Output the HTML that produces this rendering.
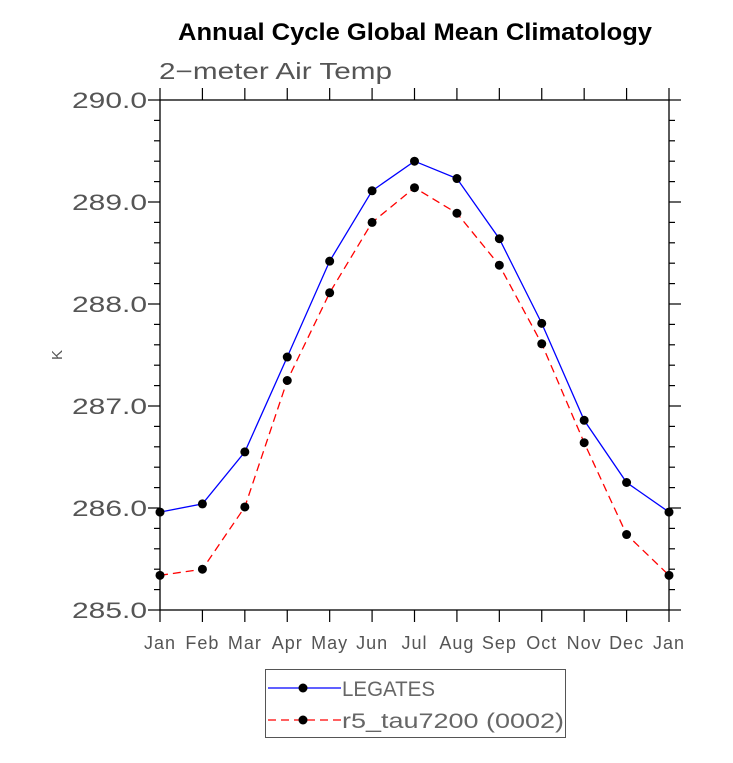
<!DOCTYPE html>
<html><head><meta charset="utf-8"><style>
html,body{margin:0;padding:0;background:#fff;}
svg text{font-family:"Liberation Sans",sans-serif;}
</style></head><body>
<svg id="chart" width="733" height="758" xmlns="http://www.w3.org/2000/svg">
<text x="415" y="40" text-anchor="middle" font-size="24" font-weight="bold" fill="#000" textLength="474" lengthAdjust="spacingAndGlyphs">Annual Cycle Global Mean Climatology</text>
<text x="159" y="79" font-size="23" fill="#555" textLength="233" lengthAdjust="spacingAndGlyphs">2−meter Air Temp</text>
<text x="62" y="355" font-size="15" fill="#555" text-anchor="middle" transform="rotate(-90 62 355)">K</text>
<g id="axes"></g>
<g id="series"></g>
<g>
<rect x="265.5" y="669.5" width="300" height="68" fill="none" stroke="#555" stroke-width="1"/>
<g>
<line x1="268" y1="688" x2="341" y2="688" stroke="#0000ff" stroke-width="1.3"/>
<circle cx="303" cy="688" r="4.5" fill="#000"/>
<text x="342" y="696" font-size="21" fill="#666" textLength="93" lengthAdjust="spacingAndGlyphs">LEGATES</text>
</g>
<g>
<line x1="268" y1="720" x2="341" y2="720" stroke="#ff0000" stroke-width="1.3" stroke-dasharray="8,5"/>
<circle cx="303" cy="720" r="4.5" fill="#000"/>
<text x="342" y="728" font-size="21" fill="#666" textLength="222" lengthAdjust="spacingAndGlyphs">r5_tau7200 (0002)</text>
</g>
</g>
</svg>
<script>
const months = ["Jan","Feb","Mar","Apr","May","Jun","Jul","Aug","Sep","Oct","Nov","Dec","Jan"];
const legates = [285.96,286.04,286.55,287.48,288.42,289.11,289.40,289.23,288.64,287.81,286.86,286.25,285.96];
const r5 = [285.34,285.40,286.01,287.25,288.11,288.80,289.14,288.89,288.38,287.61,286.64,285.74,285.34];
const yTicks = [285,286,287,288,289,290];
const yTickLabels = ["285.0","286.0","287.0","288.0","289.0","290.0"];

const X0=160,X1=669,Y0=610,Y1=100,YMIN=285,YMAX=290;
const xs=i=>X0+(X1-X0)*i/(months.length-1);
const ys=v=>Y0-(v-YMIN)/(YMAX-YMIN)*(Y0-Y1);
const NS="http://www.w3.org/2000/svg";
function mk(tag,attrs,parent){const e=document.createElementNS(NS,tag);for(const k in attrs)e.setAttribute(k,attrs[k]);parent.appendChild(e);return e;}
const axes=document.getElementById('axes');
const frame=mk('rect',{x:X0,y:Y1,width:X1-X0,height:Y0-Y1,fill:'none',stroke:'#000','stroke-width':1.3},axes);


months.forEach((m,i)=>{
  const x=xs(i);
  const t1=mk('line',{x1:x,y1:Y0,x2:x,y2:Y0+12,stroke:'#000','stroke-width':1.2},axes);
  
  
  const t2=mk('line',{x1:x,y1:Y1,x2:x,y2:Y1-12,stroke:'#000','stroke-width':1.2},axes);
  
  
  const lb=mk('text',{x:x,y:Y0+39,'text-anchor':'middle','font-size':18,fill:'#555','letter-spacing':1},axes);
  lb.textContent=m;
  
  
});
for(let v=YMIN;v<=YMAX+1e-9;v+=0.2){
  const y=ys(v);const major=Math.abs(v-Math.round(v))<1e-6;
  const L=major?12:6;
  const a=mk('line',{x1:X0-L,y1:y,x2:X0,y2:y,stroke:'#000','stroke-width':1.2},axes);
  
  
  const b=mk('line',{x1:X1,y1:y,x2:X1+L,y2:y,stroke:'#000','stroke-width':1.2},axes);
  
  
}
yTicks.forEach((v,i)=>{
  const lb=mk('text',{x:72,y:ys(v)+8,'font-size':22,fill:'#555',textLength:75,lengthAdjust:'spacingAndGlyphs'},axes);
  lb.textContent=yTickLabels[i];
  
  
});
const ser=document.getElementById('series');
function drawSeries(vals,color,dash,name){
  const g=mk('g',{},ser);
  
  
  const pts=vals.map((v,i)=>xs(i)+','+ys(v)).join(' ');
  const pl=mk('polyline',{points:pts,fill:'none',stroke:color,'stroke-width':1.3},g);
  if(dash)pl.setAttribute('stroke-dasharray',dash);
  
  
  vals.forEach((v,i)=>{
    const c=mk('circle',{cx:xs(i),cy:ys(v),r:4.5,fill:'#000'},g);
    
    
  });
}
drawSeries(legates,'#0000ff',null,'legates-series');
drawSeries(r5,'#ff0000','8,5','r5-series');
</script>
</body></html>
